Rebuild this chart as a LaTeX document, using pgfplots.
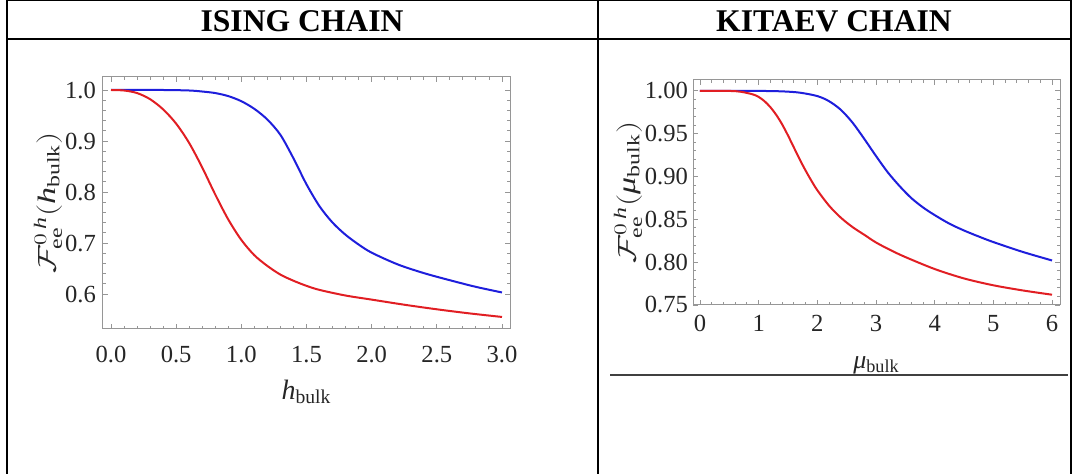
\documentclass[border=0pt]{standalone}
\usepackage{pgfplots}
\pgfplotsset{compat=1.18}
\usepackage{fontspec}
\setmainfont{Liberation Serif}
\definecolor{cred}{RGB}{225,30,35}
\definecolor{cblue}{RGB}{30,30,220}
\definecolor{frame}{RGB}{150,150,150}
\pgfplotstableread{
x y
0 1.000
0.1 0.999
0.2 0.994
0.3 0.982
0.4 0.962
0.5 0.934
0.6 0.896
0.7 0.848
0.8 0.795
0.9 0.746
1.0 0.706
1.1 0.676
1.2 0.655
1.3 0.638
1.4 0.626
1.5 0.616
1.6 0.608
1.8 0.597
2.0 0.589
2.25 0.579
2.5 0.570
2.75 0.562
3.0 0.555
}\isingred
\pgfplotstableread{
x y
0 1.000
0.4 1.000
0.6 0.999
0.7 0.997
0.8 0.994
0.9 0.988
1.0 0.978
1.1 0.963
1.2 0.942
1.3 0.912
1.4 0.866
1.5 0.815
1.6 0.772
1.7 0.740
1.8 0.716
1.9 0.697
2.0 0.681
2.2 0.658
2.4 0.641
2.6 0.627
2.8 0.614
3.0 0.603
}\isingblue
\pgfplotstableread{
x y
0 1.000
0.5 1.000
0.7 0.999
0.9 0.996
1.0 0.993
1.1 0.988
1.2 0.981
1.3 0.972
1.4 0.961
1.5 0.948
1.6 0.934
1.7 0.920
1.8 0.907
1.9 0.895
2.0 0.884
2.2 0.866
2.4 0.852
2.6 0.841
2.8 0.832
3.0 0.823
3.25 0.814
3.5 0.806
4.0 0.792
4.5 0.781
5.0 0.773
5.5 0.767
6.0 0.762
}\kitaevred
\pgfplotstableread{
x y
0 1.000
1.0 1.000
1.4 0.9995
1.7 0.998
2.0 0.994
2.2 0.988
2.4 0.978
2.6 0.963
2.8 0.944
3.0 0.924
3.2 0.905
3.4 0.889
3.6 0.875
3.8 0.864
4.0 0.855
4.25 0.845
4.5 0.837
4.75 0.830
5.0 0.8235
5.5 0.812
6.0 0.802
}\kitaevblue
\pgfplotsset{
  mma/.style={
    scale only axis,
    axis line style={frame, line width=0.5pt},
    tick style={frame, line width=0.45pt},
    major tick length=2.4pt,
    minor tick length=1.4pt,
    tick align=inside,
    minor x tick num=4,
    minor y tick num=4,
    ticklabel style={font=\fontsize{12.3}{14}\selectfont, text=black!85},
    /pgf/number format/assume math mode=true,
    every axis y label/.style={at={(axis description cs:0,0.5)}, rotate=90, anchor=center,
      font=\fontsize{17}{19}\selectfont, text=black!85},
    every axis x label/.style={at={(axis description cs:0.5,0)}, anchor=center,
      font=\fontsize{14}{16}\selectfont, text=black!85},
  }
}
\begin{document}
\begin{tikzpicture}
\useasboundingbox (0,0) rectangle (538pt,237pt);
% table frame
\draw[line width=0.9pt] (3.5pt,236.7pt) -- (535.5pt,236.7pt);
\draw[line width=0.9pt] (3.5pt,0pt) -- (3.5pt,237pt);
\draw[line width=0.9pt] (299pt,0pt) -- (299pt,237pt);
\draw[line width=0.9pt] (535.5pt,0pt) -- (535.5pt,237pt);
\draw[line width=0.9pt] (3.5pt,217.5pt) -- (535.5pt,217.5pt);
\draw[line width=0.8pt, black!75] (305pt,49.5pt) -- (534pt,49.5pt);
\node[font=\fontsize{15.8}{18}\selectfont\bfseries, anchor=base, inner sep=0pt] at (151pt,221pt) {ISING CHAIN};
\node[font=\fontsize{15.8}{18}\selectfont\bfseries, anchor=base, inner sep=0pt] at (417pt,221pt) {KITAEV CHAIN};

\begin{axis}[mma,
  at={(51.5pt,72.5pt)}, anchor=south west,
  width=203.5pt, height=126pt,
  xmin=-0.0614, xmax=3.0614, ymin=0.5314, ymax=1.0255,
  xtick={0,0.5,...,3}, ytick={0.6,0.7,0.8,0.9,1.0},
  xticklabel style={yshift=-5pt, /pgf/number format/.cd, fixed, fixed zerofill, precision=1},
  yticklabel style={/pgf/number format/.cd, fixed, fixed zerofill, precision=1},
  xlabel={$\mathit{h}_{\mathrm{bulk}}$},
  ylabel={\scalebox{1}[0.74]{$\mathcal{F}^{0\,\mathit{h}}_{\mathrm{ee}}(\mathit{h}_{\mathrm{bulk}})$}},
  xlabel style={yshift=-31.5pt},
  ylabel style={yshift=27.5pt},
]
\addplot[cblue, line width=1pt, smooth] table[x=x,y=y] {\isingblue};
\addplot[cred, line width=1pt, smooth] table[x=x,y=y] {\isingred};
\end{axis}

\begin{axis}[mma,
  at={(346.5pt,84.5pt)}, anchor=south west,
  width=183.5pt, height=112.5pt,
  xmin=-0.119, xmax=6.136, ymin=0.75, ymax=1.0128,
  xtick={0,1,...,6}, ytick={0.75,0.80,...,1.0},
  xticklabel style={yshift=-1.5pt},
  yticklabel style={xshift=1pt, /pgf/number format/.cd, fixed, fixed zerofill, precision=2},
  xlabel={\fontsize{13}{15}\selectfont\textit{μ}$_{\mathrm{bulk}}$},
  ylabel={\scalebox{1}[0.74]{$\mathcal{F}^{0\,\mathit{h}}_{\mathrm{ee}}($\textit{μ}$_{\mathrm{bulk}})$}},
  xlabel style={yshift=-30pt},
  ylabel style={yshift=32.5pt},
]
\addplot[cblue, line width=1pt, smooth] table[x=x,y=y] {\kitaevblue};
\addplot[cred, line width=1pt, smooth] table[x=x,y=y] {\kitaevred};
\end{axis}
\end{tikzpicture}
\end{document}
